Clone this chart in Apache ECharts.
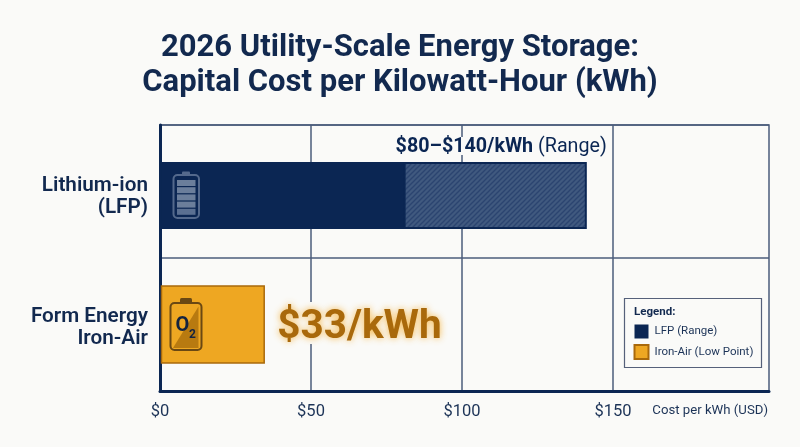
<!DOCTYPE html>
<html><head><meta charset="utf-8">
<script src="https://cdn.jsdelivr.net/npm/echarts@6/dist/echarts.min.js"></script>
<style>html,body{margin:0;padding:0;background:#fafaf8}#c{width:800px;height:447px}</style>
</head><body><div id="c"></div>
<script>
var titleText = '2026 Utility-Scale Energy Storage:\nCapital Cost per Kilowatt-Hour (kWh)';
var categories = ['Lithium-ion\n(LFP)', 'Form Energy\nIron-Air'];
var xTicks = [0, 50, 100, 150];
var lfpSolid = [81];
var lfpRange = [81, 141];
var ironAirBar = [34.5];
var lfpLabelBold = '$80–$140/kWh';
var lfpLabelPlain = ' (Range)';
var ironAirLabel = '$33/kWh';

var NAVY = '#0b2653', AMBER = '#eea722', BROWN = '#a9690b', BG = '#fafaf8', FONT = 'Roboto, sans-serif';

function hatch() {
  var c = document.createElement('canvas'); c.width = c.height = 5;
  var g = c.getContext('2d');
  g.fillStyle = '#40597f'; g.fillRect(0, 0, 5, 5);
  g.strokeStyle = '#2b4470'; g.lineWidth = 1.3;
  [[-1, 1, 1, -1], [0, 5, 5, 0], [4, 6, 6, 4]].forEach(function (l) {
    g.beginPath(); g.moveTo(l[0], l[1]); g.lineTo(l[2], l[3]); g.stroke();
  });
  return c;
}
var hatchImg = hatch();

function lfpItem(params, api) {
  var x0 = api.coord([0, 0])[0], yc = api.coord([0, 0])[1] + 4;
  var a = api.coord([api.value(0), 0])[0], b = api.coord([api.value(1), 0])[0];
  var h = 67, top = yc - h / 2;
  var tx = (a + b) / 2 + 6;
  var kids = [
    { type: 'rect', shape: { x: tx - 106, y: top - 25, width: 212, height: 18 }, style: { fill: BG } },
    { type: 'rect', shape: { x: x0 + 1.5, y: top, width: a - x0 - 1.5, height: h }, style: { fill: NAVY } },
    { type: 'rect', shape: { x: a, y: top + 1, width: b - a, height: h - 2 },
      style: { fill: { image: hatchImg, repeat: 'repeat' }, stroke: NAVY, lineWidth: 2 } },
    { type: 'rect', shape: { x: x0 + 13.5, y: yc - 20.5, width: 25.5, height: 43, r: 4 },
      style: { fill: 'none', stroke: '#54698c', lineWidth: 2 } },
    { type: 'rect', shape: { x: x0 + 22, y: yc - 24, width: 8, height: 3.5, r: 1 }, style: { fill: '#54698c' } }
  ];
  for (var i = 0; i < 5; i++) {
    kids.push({ type: 'rect', shape: { x: x0 + 17, y: yc - 15.5 + i * 7.2, width: 18.5, height: 6 },
      style: { fill: i === 4 ? '#5b7092' : '#6b7e9b' } });
  }
  kids.push({ type: 'text', z2: 5, style: {
    x: tx, y: top - 15, align: 'center', verticalAlign: 'middle',
    text: '{b|' + lfpLabelBold + '}{p|' + lfpLabelPlain + '}',
    rich: {
      b: { font: 'bold 19.7px ' + FONT, fill: NAVY, color: NAVY },
      p: { font: '19.7px ' + FONT, fill: NAVY, color: NAVY }
    } } });
  return { type: 'group', children: kids };
}

function ironItem(params, api) {
  var p0 = api.coord([0, 1]), x0 = p0[0], yc = p0[1];
  var b = api.coord([api.value(0), 1])[0];
  var h = 77, top = yc - h / 2;
  var ic = '#6a4813';
  return { type: 'group', children: [
    { type: 'rect', shape: { x: b + 8, y: yc - 22.5, width: 172, height: 42 }, style: { fill: BG } },
    { type: 'rect', shape: { x: x0 + 1.5, y: top, width: b - x0 - 1.5, height: h },
      style: { fill: AMBER, stroke: BROWN, lineWidth: 1.5 } },
    { type: 'polygon', shape: { points: [[x0 + 38.5, yc - 18], [x0 + 38.5, yc + 23.5], [x0 + 13, yc + 23.5]] },
      style: { fill: '#b87a10' } },
    { type: 'rect', shape: { x: x0 + 10.5, y: yc - 21.5, width: 31, height: 47, r: 4 },
      style: { fill: 'none', stroke: ic, lineWidth: 2 } },
    { type: 'rect', shape: { x: x0 + 20, y: yc - 26.5, width: 12, height: 5, r: 1.5 }, style: { fill: ic } },
    { type: 'text', style: { x: x0 + 15.5, y: yc + 1, verticalAlign: 'middle', text: 'O',
      font: 'bold 20px ' + FONT, fill: '#14233f' } },
    { type: 'text', style: { x: x0 + 29, y: yc + 10, verticalAlign: 'middle', text: '2',
      font: 'bold 12px ' + FONT, fill: '#14233f' } },
    { type: 'text', z2: 5, style: { x: b + 13, y: yc + 3, verticalAlign: 'middle', text: ironAirLabel,
      font: 'bold 40.5px ' + FONT, fill: BROWN,
      textShadowColor: 'rgba(245,170,40,0.85)', textShadowBlur: 7 } }
  ] };
}

var chart = echarts.init(document.getElementById('c'), null, { renderer: 'canvas' });
chart.setOption({
  backgroundColor: BG,
  animation: false,
  title: { text: titleText, left: 'center', top: 26,
    textStyle: { fontFamily: FONT, fontWeight: 'bold', fontSize: 31, lineHeight: 35, color: '#12294f' } },
  grid: { left: 160, top: 125, width: 609, height: 266, show: true, borderColor: '#4b5c7b', borderWidth: 1.5, backgroundColor: 'transparent' },
  xAxis: { type: 'value', min: 0, max: 201.66, interval: 50,
    axisLine: { show: true, onZero: false, lineStyle: { color: NAVY, width: 3 } },
    axisTick: { show: false, customValues: xTicks },
    axisLabel: { customValues: xTicks, margin: 12, fontFamily: FONT, fontSize: 16.5, color: '#1c3357', formatter: '${value}' },
    splitLine: { show: true, lineStyle: { color: '#4b5c7b', width: 1.5 } } },
  yAxis: { type: 'category', inverse: true, data: categories,
    axisLine: { show: true, lineStyle: { color: NAVY, width: 3 } },
    axisTick: { show: false },
    axisLabel: { margin: 12, align: 'right', formatter: function (v, i) {
        var p = v.split('\n');
        return '{' + (i === 0 ? 's0' : 's1') + '| }\n{n|' + p[0] + '}\n{n|' + p[1] + '}';
      },
      rich: {
        s0: { fontSize: 4, lineHeight: 10 },
        s1: { fontSize: 4, lineHeight: 6 },
        n: { fontFamily: FONT, fontWeight: 600, fontSize: 20.7, lineHeight: 22, color: '#12294f', align: 'right' }
      } },
    splitLine: { show: true, lineStyle: { color: '#4b5c7b', width: 1.5 } } },
  legend: { orient: 'vertical', left: 633.5, top: 324.5, padding: 0, itemWidth: 14, itemHeight: 14, itemGap: 5.5, icon: 'rect',
    data: ['LFP (Range)', 'Iron-Air (Low Point)'],
    selectedMode: false,
    textStyle: { fontFamily: FONT, fontSize: 11.5, color: '#1c3357', padding: [0, 0, 0, 1] } },
  graphic: [
    { type: 'rect', z: 3, shape: { x: 624.5, y: 298.5, width: 137, height: 69 },
      style: { fill: BG, stroke: '#55607a', lineWidth: 1.2 } },
    { type: 'text', z: 4, style: { x: 634, y: 312, verticalAlign: 'middle', text: 'Legend:',
      font: 'bold 11.5px ' + FONT, fill: '#12294f' } },
    { type: 'text', z: 4, style: { x: 768, y: 411, align: 'right', verticalAlign: 'middle', text: 'Cost per kWh (USD)',
      font: '13.2px ' + FONT, fill: '#1c3357' } }
  ],
  series: [
    { name: 'LFP (Range)', type: 'custom', coordinateSystem: 'cartesian2d', clip: false, z: 5,
      itemStyle: { color: NAVY }, renderItem: lfpItem, encode: { x: [0, 1] }, data: [[lfpSolid[0], lfpRange[1]]] },
    { name: 'Iron-Air (Low Point)', type: 'custom', coordinateSystem: 'cartesian2d', clip: false, z: 5,
      itemStyle: { color: AMBER, borderColor: BROWN, borderWidth: 0.6 }, renderItem: ironItem, encode: { x: 0 }, data: [[ironAirBar[0]]] }
  ]
});
</script></body></html>
